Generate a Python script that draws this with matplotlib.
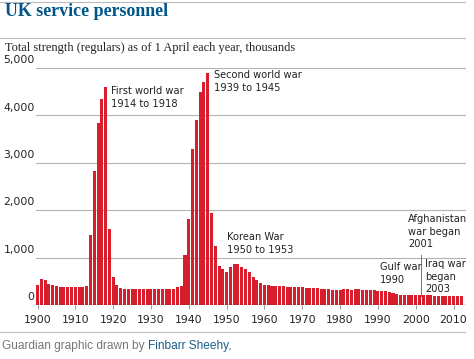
import matplotlib
matplotlib.use('Agg')
import matplotlib.pyplot as plt
import numpy as np

# Dados: efetivo total (regulares) em 1 de abril, milhares
anos = np.arange(1900, 2013)
efetivo = [
    # 1900-1913
    420, 540, 520, 450, 420, 400, 385, 385, 385, 390, 390, 390, 390, 395,
    # 1914-1920
    1480, 2830, 3850, 4350, 4590, 1600, 590,
    # 1921-1938
    425, 350, 340, 335, 335, 335, 330, 330, 330, 330, 330, 330, 330, 335, 340, 345, 370, 400,
    # 1939-1949
    1060, 1820, 3300, 3900, 4490, 4710, 4900, 1940, 1250, 820, 750,
    # 1950-1962
    690, 810, 860, 860, 810, 770, 700, 600, 530, 460, 425, 420, 410,
    # 1963-1980
    405, 400, 395, 390, 385, 375, 370, 370, 365, 365, 360, 355, 345, 340, 335, 325, 320, 325,
    # 1981-1999
    335, 330, 325, 330, 330, 325, 320, 315, 310, 305, 300, 290, 275, 250, 235, 220, 215, 210, 210,
    # 2000-2012
    205, 205, 205, 210, 205, 200, 195, 195, 190, 195, 195, 190, 180,
]
ticks_y = [0, 1000, 2000, 3000, 4000, 5000]
ticks_x = list(range(1900, 2011, 10))

azul = '#005689'
vermelho = '#d81e2c'
cinza = '#b3b3b3'
fonte_narrow = ['Liberation Sans Narrow', 'DejaVu Sans']

fig = plt.figure(figsize=(4.74, 3.59), dpi=100)
W, H = 474, 359

def fx(px):
    return px / W

def fy(py):
    return 1 - py / H

ax = fig.add_axes([fx(36), fy(305), fx(466) - fx(36), fy(68) - fy(305)])
ax.bar(anos, efetivo, width=0.8, color=vermelho, linewidth=0, zorder=2)
ax.set_xlim(1899.6, 2013.3)
ax.set_ylim(0, 5000)

for v in ticks_y[1:]:
    ax.axhline(v, color=cinza, linewidth=0.8, zorder=1)
ax.axhline(0, color='#333333', linewidth=0.9, zorder=3)

for s in ax.spines.values():
    s.set_visible(False)
ax.set_yticks([])
ax.set_xticks(ticks_x)
ax.set_xticklabels([str(t) for t in ticks_x], fontsize=7.8, color='#222222')
ax.tick_params(axis='x', length=3, width=0.6, color='#888888', pad=4)

# rótulos do eixo y acima das linhas de grade
for v in ticks_y:
    ax.text(-0.003, v + 60, f'{v:,}', transform=ax.get_yaxis_transform(),
            ha='right', va='bottom', fontsize=7.8, color='#222222')

# anotações (posição em pixels da figura: esquerda, topo)
notas = [
    (111, 86, 'First world war\n1914 to 1918'),
    (214, 70, 'Second world war\n1939 to 1945'),
    (227, 232, 'Korean War\n1950 to 1953'),
    (380, 262, 'Gulf war\n1990'),
    (408, 214, 'Afghanistan\nwar began\n2001'),
    (425, 259, 'Iraq war\nbegan\n2003'),
]
for px, py, t in notas:
    fig.text(fx(px), fy(py), t, ha='left', va='top', fontsize=7.1, family=fonte_narrow,
             color='#222222', linespacing=1.32, zorder=4)
ax.plot([2001.5, 2001.5], [190, 1050], color='#777777', linewidth=0.7, zorder=3)

# título, subtítulo e linhas horizontais
for py in [1.7, 38.3, 331.5]:
    fig.add_artist(plt.Line2D([0, fx(465)], [fy(py), fy(py)], color='#bbbbbb', linewidth=0.8))
fig.text(fx(5), fy(11.5), 'UK service personnel', ha='left', va='center',
         fontsize=12.9, fontweight='bold', family='Liberation Serif', color=azul)
fig.text(fx(5), fy(47.5), 'Total strength (regulars) as of 1 April each year, thousands',
         ha='left', va='center', fontsize=8.9, family='Liberation Serif', color='#222222')

t1 = fig.text(fx(2), fy(346), 'Guardian graphic drawn by ', ha='left', va='center',
              fontsize=8.6, family='Liberation Sans', color='#777777')
fig.canvas.draw()
bb = t1.get_window_extent()
fig.text(bb.x1 / fig.bbox.width, fy(346), 'Finbarr Sheehy,', ha='left', va='center',
         fontsize=8.6, family='Liberation Sans', color='#1a5f8a')

fig.savefig('out.png', dpi=100)
